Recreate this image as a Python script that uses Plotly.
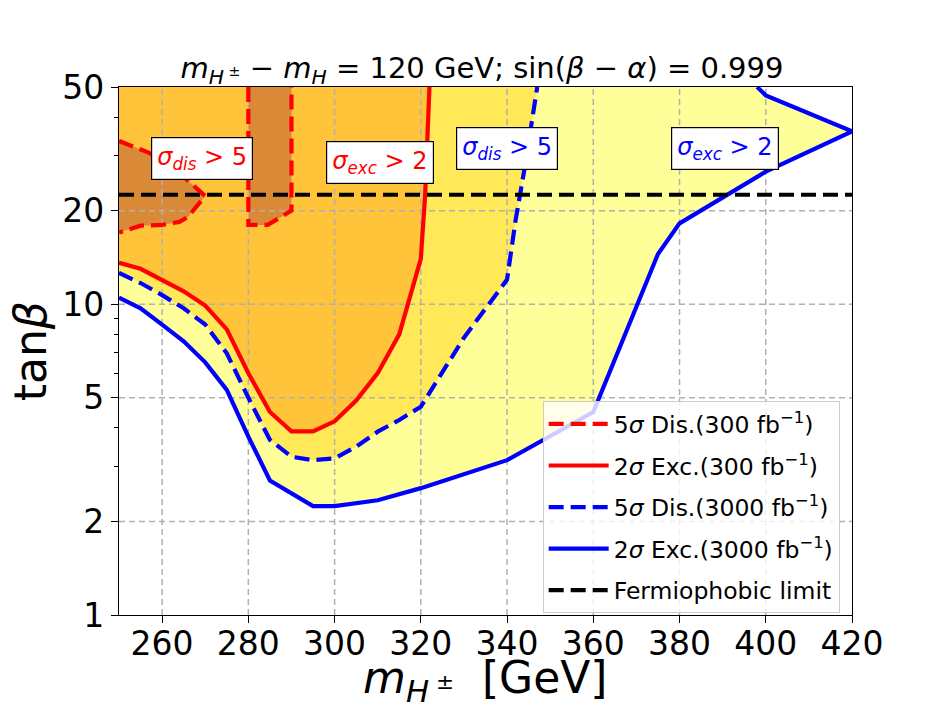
import math
import plotly.graph_objects as go

# axis ranges
x_min, x_max = 250, 420
y_min, y_max = 1, 50

# 5 sigma discovery, 300 fb^-1 (two islands)
dis300_a_x = [250, 257, 265, 270, 266, 264, 260, 255, 250]
dis300_a_y = [33.5, 30.7, 25.7, 22.3, 19.1, 18.4, 18.0, 17.9, 17.0]
dis300_b_x = [280, 280, 284.5, 288.5, 290, 290]
dis300_b_y = [50, 18.0, 18.0, 19.4, 20.0, 50]

# 2 sigma exclusion, 300 fb^-1
exc300_x = [250, 255, 265, 270, 275, 280, 285, 290, 295, 300, 305, 310, 315, 320, 321, 322]
exc300_y = [13.6, 13.0, 11.0, 9.9, 8.3, 6.0, 4.5, 3.9, 3.9, 4.2, 4.9, 6.0, 8.0, 14.0, 22.5, 50]

# 5 sigma discovery, 3000 fb^-1
dis3000_x = [250, 255, 260, 265, 270, 275, 280, 285, 290, 295, 300, 305, 310, 315, 320, 330, 340, 342, 344, 347]
dis3000_y = [12.6, 11.7, 10.7, 9.7, 8.6, 6.95, 5.0, 3.66, 3.23, 3.15, 3.19, 3.48, 3.89, 4.24, 4.68, 7.8, 12.0, 18.7, 27.0, 50]

# 2 sigma exclusion, 3000 fb^-1
exc3000_x = [250, 255, 260, 265, 270, 275, 280, 285, 295, 300, 310, 320, 340, 360, 375, 380, 400, 420, 400, 398]
exc3000_y = [10.5, 9.7, 8.6, 7.6, 6.5, 5.3, 3.75, 2.71, 2.24, 2.24, 2.34, 2.56, 3.15, 4.5, 14.5, 18.2, 26.7, 36.0, 47.0, 50]

fermiophobic_tanb = 22.5

x_ticks = [260, 280, 300, 320, 340, 360, 380, 400, 420]
y_ticks = [1, 2, 5, 10, 20, 50]
y_minor = [3, 4, 6, 7, 8, 9, 30, 40]

c_light = "#FFFF99"
c_yellow = "#FFE959"
c_orange = "#FFC439"
c_dark = "#DA8A37"

fig = go.Figure()


def region(xs, ys, color):
    fig.add_trace(go.Scatter(x=xs, y=ys, mode="lines", fill="toself", fillcolor=color,
                             line=dict(width=0), showlegend=False, hoverinfo="skip"))


region(exc3000_x + [x_min], exc3000_y + [y_max], c_light)
region(dis3000_x + [x_min], dis3000_y + [y_max], c_yellow)
region(exc300_x + [x_min], exc300_y + [y_max], c_orange)
region(dis300_a_x, dis300_a_y, c_dark)
region(dis300_b_x, dis300_b_y, c_dark)

# grid drawn over the fills, like matplotlib
grid = dict(color="#b0b0b0", width=1.5, dash="6px,4px")
for xv in x_ticks[:-1]:
    fig.add_trace(go.Scatter(x=[xv, xv], y=[y_min, y_max], mode="lines", line=grid,
                             showlegend=False, hoverinfo="skip"))
for yv in y_ticks[1:-1]:
    fig.add_trace(go.Scatter(x=[x_min, x_max], y=[yv, yv], mode="lines", line=grid,
                             showlegend=False, hoverinfo="skip"))

dash = "15px,7px"
lw = 4.2
fig.add_trace(go.Scatter(x=dis300_a_x, y=dis300_a_y, mode="lines",
                         line=dict(color="red", width=lw, dash=dash),
                         name="5<i>σ</i> Dis.(300 fb<sup>−1</sup>)", legendgroup="a"))
fig.add_trace(go.Scatter(x=dis300_b_x, y=dis300_b_y, mode="lines",
                         line=dict(color="red", width=lw, dash=dash),
                         showlegend=False, legendgroup="a"))
fig.add_trace(go.Scatter(x=exc300_x, y=exc300_y, mode="lines",
                         line=dict(color="red", width=lw),
                         name="2<i>σ</i> Exc.(300 fb<sup>−1</sup>)", legendgroup="b"))
fig.add_trace(go.Scatter(x=dis3000_x, y=dis3000_y, mode="lines",
                         line=dict(color="blue", width=lw, dash=dash),
                         name="5<i>σ</i> Dis.(3000 fb<sup>−1</sup>)", legendgroup="c"))
fig.add_trace(go.Scatter(x=exc3000_x, y=exc3000_y, mode="lines",
                         line=dict(color="blue", width=lw),
                         name="2<i>σ</i> Exc.(3000 fb<sup>−1</sup>)", legendgroup="d"))
fig.add_trace(go.Scatter(x=[x_min, x_max], y=[fermiophobic_tanb] * 2, mode="lines",
                         line=dict(color="black", width=lw, dash=dash),
                         name="Fermiophobic limit", legendgroup="e"))

labels = [
    (269.2, 29.5, "<i>σ<sub>dis</sub></i> > 5", "red"),
    (310.5, 28.5, "<i>σ<sub>exc</sub></i> > 2", "red"),
    (340.0, 31.8, "<i>σ<sub>dis</sub></i> > 5", "blue"),
    (390.5, 31.8, "<i>σ<sub>exc</sub></i> > 2", "blue"),
]
for lx, ly, txt, col in labels:
    fig.add_annotation(x=lx, y=math.log10(ly), text=txt, showarrow=False,
                       font=dict(size=24, color=col), bgcolor="white",
                       bordercolor="black", borderwidth=1.2, borderpad=5)

# axis titles as annotations so they sit where the reference has them
fig.add_annotation(x=0.5, y=-0.066, xref="paper", yref="paper", yanchor="top",
                   text="<i>m</i><sub><i>H</i><sup> ±</sup></sub>  [GeV]",
                   showarrow=False, font=dict(size=44))
fig.add_annotation(x=-0.121, y=0.5, xref="paper", yref="paper", xanchor="center",
                   text="tan<i>β</i>", textangle=-90,
                   showarrow=False, font=dict(size=44))

font = "DejaVu Sans"
# page body adds an 8px offset, so margins are shifted by that much
fig.update_layout(
    width=948, height=717,
    margin=dict(l=111, r=104, t=79, b=110, autoexpand=False),
    paper_bgcolor="white", plot_bgcolor="white",
    font=dict(family=font, color="black"),
    title=dict(text="<i>m</i><sub><i>H</i><sup> ±</sup></sub> − <i>m</i><sub><i>H</i></sub> = 120 GeV; "
                    "sin(<i>β</i> − <i>α</i>) = 0.999",
               x=0.5, xanchor="center", y=1 - 60 / 717, yanchor="middle",
               font=dict(size=29)),
    legend=dict(x=0.578, y=0.405, xanchor="left", yanchor="top",
                bgcolor="rgba(255,255,255,0.8)", bordercolor="#cccccc", borderwidth=1,
                font=dict(size=23.5), tracegroupgap=8, itemwidth=60),
    showlegend=True,
)
fig.update_xaxes(range=[x_min, x_max], tickvals=x_ticks, showgrid=False, automargin=False,
                 ticks="outside", ticklen=7, tickcolor="black",
                 showline=True, linecolor="black", linewidth=1.2, mirror=True,
                 tickfont=dict(size=33), ticklabelstandoff=-8)
fig.update_yaxes(type="log", range=[0, 1.69897], tickvals=y_ticks, automargin=False,
                 ticktext=[str(v) for v in y_ticks], showgrid=False,
                 ticks="outside", ticklen=7, tickcolor="black",
                 minor=dict(tickvals=y_minor, ticks="outside", ticklen=4, tickcolor="black"),
                 showline=True, linecolor="black", linewidth=1.2, mirror=True,
                 tickfont=dict(size=33))

fig.write_html("out.html")
